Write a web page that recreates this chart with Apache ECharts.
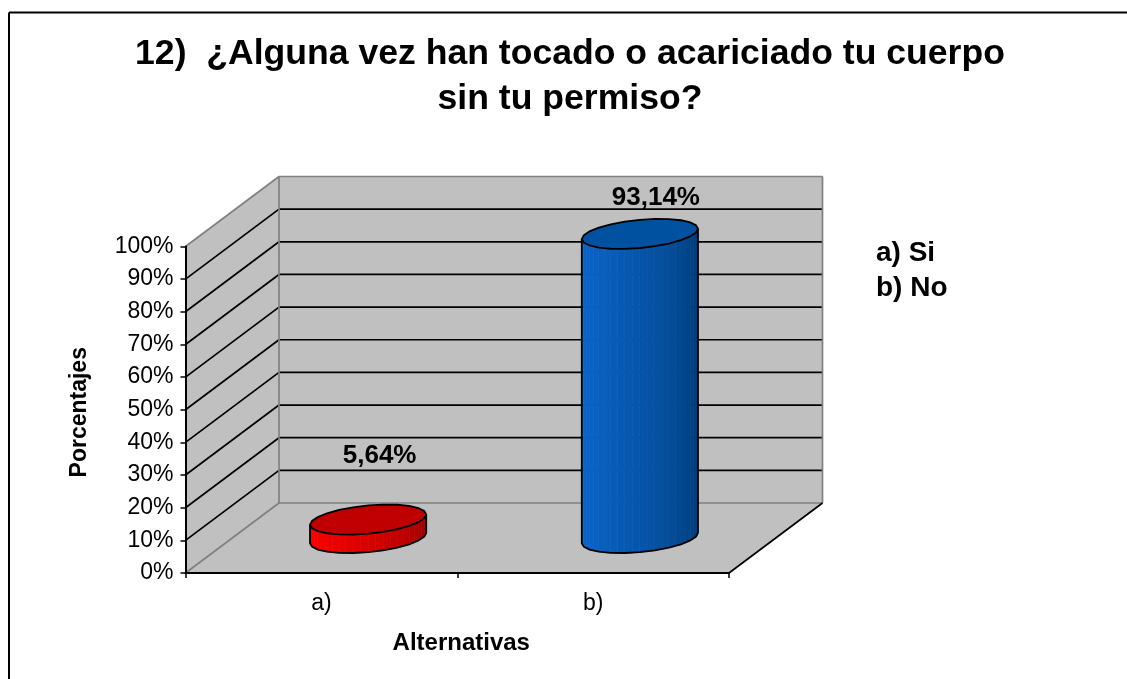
<!DOCTYPE html>
<html><head><meta charset="utf-8">
<style>html,body{margin:0;padding:0;background:#fff}#c{width:1127px;height:679px}</style>
<script src="https://cdn.jsdelivr.net/npm/echarts@6/dist/echarts.min.js"></script>
</head><body><div id="c"></div>
<script>
const categories = ['a)', 'b)'];
const values = [5.64, 93.14];
const valueLabels = ['5,64%', '93,14%'];
const yTicks = [0,10,20,30,40,50,60,70,80,90,100];
const sideColors = [['#ff0000','#960000'], ['#0a66cc','#003a74']];
const topColors = ['#c00000','#00519f'];
const titleLines = '12)  ¿Alguna vez han tocado o acariciado tu cuerpo\nsin tu permiso?';
const noteLines = ['a) Si', 'b) No'];

const FONT = '"Liberation Sans", Arial, sans-serif';
const DX = 93.5, DY = -70;           // full depth of the 3D box
const RX = 54.5, RB = 0.215;          // cylinder radius: width, and fraction of depth
const SEG = 24;
const GRAY = '#808080', WALL = '#c0c0c0';
const LABEL_SHIFT = [[11.5,-64],[16,-36]];  // hand-placed data labels relative to the cap centre

function mix(a, b, t) {
  const p = s => [1,3,5].map(i => parseInt(s.substr(i,2),16));
  const A = p(a), B = p(b);
  return 'rgb(' + A.map((v,i) => Math.round(v + (B[i]-v)*t)).join(',') + ')';
}
function line(x1,y1,x2,y2,color,w) {
  return {type:'line', shape:{x1,y1,x2,y2}, style:{stroke:color, lineWidth:w}};
}

function renderWalls(params, api) {
  const idx = params.dataIndex;
  const v = api.value(0);
  const cs = params.coordSys;
  const y = api.coord([0, v])[1];
  const x0 = cs.x, x1 = cs.x + cs.width;
  const top = cs.y, bot = cs.y + cs.height;
  const children = [];
  if (idx === 0) {
    children.push({type:'polygon', shape:{points:[[x0,bot],[x0+DX,bot+DY],[x0+DX,top+DY],[x0,top]]}, style:{fill:WALL}});
    children.push({type:'polygon', shape:{points:[[x0+DX,bot+DY],[x1+DX,bot+DY],[x1+DX,top+DY],[x0+DX,top+DY]]}, style:{fill:WALL}});
    children.push({type:'polygon', shape:{points:[[x0,bot],[x1,bot],[x1+DX,bot+DY],[x0+DX,bot+DY]]}, style:{fill:WALL}});
  }
  const edge = v === 0 || v === 100;
  const col = edge ? GRAY : '#000';
  children.push(line(x0, y, x0+DX, y+DY, col, 1.7));
  children.push(line(x0+DX, y+DY, x1+DX, y+DY, col, 1.7));
  if (idx === yTicks.length - 1) {
    children.push(line(x0+DX, y+DY, x0+DX, bot+DY, GRAY, 1.7));
    children.push(line(x1+DX, y+DY, x1+DX, bot+DY, GRAY, 1.7));
    children.push(line(x1, bot, x1+DX, bot+DY, '#000', 1.7));
  }
  return {type:'group', children};
}

function renderColumn(params, api) {
  const i = api.value(0), v = api.value(1);
  const base = api.coord([i, 0]), head = api.coord([i, v]);
  const cx = base[0] + DX/2, by = base[1] + DY/2, ty = head[1] + DY/2;
  const pt = (t, y) => [cx + Math.cos(t)*RX + Math.sin(t)*RB*DX, y + Math.sin(t)*RB*DY];
  const children = [];
  const start = Math.atan2(RB*DX, RX);           // right silhouette angle
  const front = [];
  for (let k = 0; k <= SEG; k++) front.push(start - Math.PI * k / SEG);  // right → left via the front
  const [cl, cr] = sideColors[params.dataIndex];
  for (let k = 0; k < SEG; k++) {
    const a = front[k], b = front[k+1];
    const f = Math.pow(1 - k / (SEG - 1), 1.4);
    children.push({type:'polygon', shape:{points:[pt(a,by),pt(b,by),pt(b,ty),pt(a,ty)]},
      style:{fill:mix(cl,cr,f), stroke:mix(cl,cr,f), lineWidth:0.6}});
  }
  const bottomEdge = front.filter((t,k) => k % 2 === 0).map(t => pt(t,by));
  children.push({type:'polyline', shape:{points:[pt(front[0],ty), ...bottomEdge, pt(front[SEG],ty)]},
    style:{stroke:'#000', lineWidth:1.8, fill:null}});
  const ring = [];
  for (let k = 0; k < SEG; k++) ring.push(pt(start + Math.PI*2*k/SEG, ty));
  children.push({type:'polygon', shape:{points:ring},
    style:{fill:topColors[params.dataIndex], stroke:'#000', lineWidth:1.8}});
  const s = LABEL_SHIFT[params.dataIndex];
  children.push({type:'text', style:{text:valueLabels[params.dataIndex], x:cx + s[0], y:ty + s[1],
    align:'center', verticalAlign:'middle', font:'bold 26px ' + FONT, fill:'#000'}});
  return {type:'group', children};
}

const chart = echarts.init(document.getElementById('c'), null, {renderer:'canvas'});
chart.setOption({
  animation:false,
  backgroundColor:'#fff',
  title:{text:titleLines, left:565, top:27, textAlign:'center',
    textStyle:{fontFamily:FONT, fontWeight:'bold', fontSize:35.6, lineHeight:45, color:'#000'}},
  grid:{left:185.5, right:398, top:246.5, bottom:106},
  xAxis:{type:'category', data:categories, boundaryGap:true,
    axisLine:{lineStyle:{color:'#000',width:2}}, axisTick:{show:true, length:5, lineStyle:{color:'#000',width:1.5}},
    axisLabel:{fontFamily:FONT, fontSize:23, color:'#000', margin:19},
    name:'Alternativas', nameLocation:'middle', nameGap:58,
    nameTextStyle:{fontFamily:FONT, fontWeight:'bold', fontSize:24, color:'#000', padding:[0,0,0,8]}, z:5},
  yAxis:{type:'value', min:0, max:100, interval:10,
    axisLine:{show:true, lineStyle:{color:'#000',width:2}}, axisTick:{show:true, length:5, lineStyle:{color:'#000',width:1.5}},
    splitLine:{show:false},
    axisLabel:{fontFamily:FONT, fontSize:23, color:'#000', margin:12, formatter:v => v + '%'},
    name:'Porcentajes', nameLocation:'middle', nameGap:94, nameRotate:90,
    nameTextStyle:{fontFamily:FONT, fontWeight:'bold', fontSize:23, color:'#000', padding:[0,5,0,0]}, z:5},
  series:[
    {type:'custom', data:yTicks.map(v => [v]), renderItem:renderWalls, encode:{y:0}, silent:true, z:1, clip:false},
    {type:'custom', data:values.map((v,i) => [i,v]), renderItem:renderColumn, encode:{x:0,y:1}, silent:true, z:2, clip:false}
  ],
  graphic:[
    {type:'line', shape:{x1:9, y1:12.5, x2:9, y2:679}, style:{stroke:'#000', lineWidth:2}, silent:true},
    {type:'line', shape:{x1:9, y1:12.5, x2:1127, y2:12.5}, style:{stroke:'#000', lineWidth:2}, silent:true},
    ...noteLines.map((t,i) => ({type:'text', left:876, top:239 + i*35,
      style:{text:t, font:'bold 28px ' + FONT, fill:'#000'}, silent:true}))
  ]
});
</script></body></html>
